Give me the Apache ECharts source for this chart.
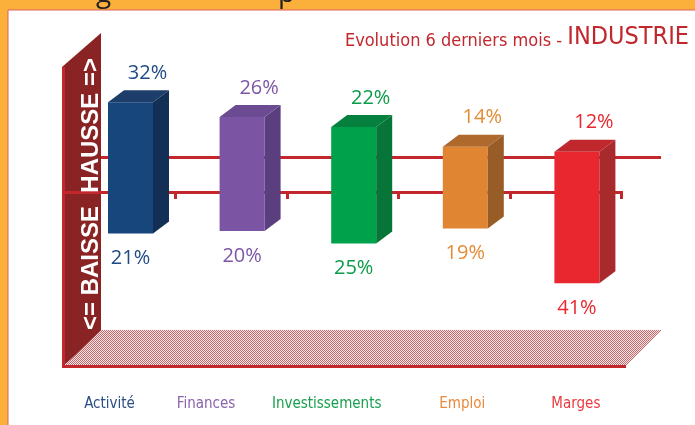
<!DOCTYPE html>
<html>
<head>
<meta charset="utf-8">
<script src="https://cdn.jsdelivr.net/npm/echarts@6/dist/echarts.min.js"></script>
<style>
    html, body { margin: 0; padding: 0; background: #fbb03b; }
    #main { width: 695px; height: 425px; }
</style>
</head>
<body>
<div id="main"></div>
<script>
// valeurs
const categories = ['Activité', 'Finances', 'Investissements', 'Emploi', 'Marges'];
const hausse = [32, 26, 22, 14, 12];
const baisse = [21, 20, 25, 19, 41];

const labelColors = ['#2a4f85', '#8a63ad', '#18a04f', '#e88a3c', '#ea3a40'];
const labelShift = [21, 36, 27, 3, 1];
const faces = [
    {front: '#17467c', side: '#142f55', top: '#1d3d6b', text: '#1f4a85'},
    {front: '#7b55a3', side: '#5b3e7e', top: '#6b4b92', text: '#7d57a6'},
    {front: '#00a14b', side: '#087538', top: '#06803f', text: '#0b9b4a'},
    {front: '#e08633', side: '#985d27', top: '#b0692c', text: '#e38b35'},
    {front: '#e8282e', side: '#a82a2d', top: '#c0282e', text: '#e8282e'}
];

const RED = '#c1272d';
const NARROW = "'Liberation Sans Narrow', 'DejaVu Sans Condensed', sans-serif";

function makeHatch() {
    let c = document.createElement('canvas');
    c.width = 2; c.height = 2;
    let ctx = c.getContext('2d');
    ctx.fillStyle = '#f4e6e6';
    ctx.fillRect(0, 0, 2, 2);
    ctx.fillStyle = '#c46a6c';
    ctx.fillRect(0, 0, 1, 1);
    ctx.fillRect(1, 1, 1, 1);
    return {image: c, repeat: 'repeat'};
}

function renderBar(params, api) {
    const i = api.value(0);
    const top = api.coord([i, api.value(1)]);
    const bot = api.coord([i, api.value(2)]);
    const w = 45, dx = 16, dy = 12;
    const x0 = top[0] - w / 2, x1 = x0 + w;
    const f = faces[i];
    return {
        type: 'group',
        children: [
            {type: 'rect', shape: {x: x0, y: top[1], width: w, height: bot[1] - top[1]},
                style: {fill: f.front}},
            {type: 'polygon', shape: {points: [[x1, top[1]], [x1 + dx, top[1] - dy], [x1 + dx, bot[1] - dy], [x1, bot[1]]]},
                style: {fill: f.side}},
            {type: 'polygon', shape: {points: [[x0, top[1]], [x0 + dx, top[1] - dy], [x1 + dx, top[1] - dy], [x1, top[1]]]},
                style: {fill: f.top}},
            {type: 'text', x: top[0] + 17, y: top[1] - 29,
                style: {text: api.value(1) + '%', fill: f.text, font: "20px 'Open Sans', sans-serif", align: 'center', verticalAlign: 'middle'}},
            {type: 'text', x: top[0], y: bot[1] + 25,
                style: {text: (-api.value(2)) + '%', fill: f.text, font: "20px 'Open Sans', sans-serif", align: 'center', verticalAlign: 'middle'}}
        ]
    };
}

let rich = {};
categories.forEach((c, i) => {
    rich['c' + i] = {color: labelColors[i], fontSize: 15, fontFamily: NARROW, padding: [0, labelShift[i] * 2, 0, 0]};
});

let chartDom = document.getElementById('main');
let myChart = echarts.init(chartDom);
let option = {
    backgroundColor: '#fbb03b',
    animation: false,
    grid: {left: 74.7, right: 62.3, top: 82.3, bottom: 119.5},
    xAxis: {
        type: 'category',
        data: categories,
        axisLine: {show: false},
        axisTick: {show: false},
        axisLabel: {
            interval: 0,
            margin: 91,
            formatter: (v, idx) => '{c' + idx + '|' + v + '}',
            rich: rich
        }
    },
    yAxis: {
        type: 'value',
        min: -50,
        max: 40,
        show: false
    },
    graphic: [
        {type: 'rect', shape: {x: 8, y: 10, width: 700, height: 430}, style: {fill: '#ffffff', stroke: '#e0605a', lineWidth: 1}},
        {type: 'text', x: 96, y: 8, style: {text: 'g', font: "28px 'Open Sans', sans-serif", fill: '#222', verticalAlign: 'bottom'}},
        {type: 'text', x: 278, y: 8, style: {text: 'p', font: "28px 'Open Sans', sans-serif", fill: '#222', verticalAlign: 'bottom'}},
        {type: 'text', x: 689, y: 50, style: {
            text: '{a|Evolution 6 derniers mois - }{b|INDUSTRIE}', align: 'right', verticalAlign: 'bottom',
            rich: {
                a: {fontSize: 18, fontFamily: NARROW, fill: RED, verticalAlign: 'bottom', lineHeight: 22},
                b: {fontSize: 25, fontFamily: NARROW, fill: RED, verticalAlign: 'bottom', lineHeight: 28}
            }
        }},
        // panneau vertical
        {type: 'polygon', shape: {points: [[62, 67], [101, 33], [101, 333], [62, 367]]}, style: {fill: '#8a2323'}},
        {type: 'rect', shape: {x: 62, y: 67, width: 3, height: 300}, style: {fill: RED}},
        // sol
        {type: 'polygon', shape: {points: [[101, 330], [662, 330], [626, 366], [64, 366]]}, style: {fill: makeHatch()}},
        {type: 'rect', shape: {x: 62, y: 365, width: 564, height: 3}, style: {fill: RED}},
        // lignes
        {type: 'rect', shape: {x: 101, y: 156, width: 560, height: 3}, style: {fill: RED}},
        {type: 'rect', shape: {x: 62, y: 191, width: 561, height: 3}, style: {fill: RED}},
        {type: 'rect', shape: {x: 174, y: 191, width: 3, height: 8}, style: {fill: RED}},
        {type: 'rect', shape: {x: 286, y: 191, width: 3, height: 8}, style: {fill: RED}},
        {type: 'rect', shape: {x: 397, y: 191, width: 3, height: 8}, style: {fill: RED}},
        {type: 'rect', shape: {x: 509, y: 191, width: 3, height: 8}, style: {fill: RED}},
        {type: 'rect', shape: {x: 620, y: 191, width: 3, height: 8}, style: {fill: RED}},
        {type: 'text', x: 91, y: 194, rotation: Math.PI / 2, style: {
            text: '<= BAISSE  HAUSSE =>', font: "bold 24px 'Liberation Sans', Arial, sans-serif",
            fill: '#ffffff', align: 'center', verticalAlign: 'middle'
        }}
    ],
    series: [{
        type: 'custom',
        renderItem: renderBar,
        encode: {x: 0, y: [1, 2]},
        data: categories.map((c, i) => [i, hausse[i], -baisse[i]])
    }]
};
option && myChart.setOption(option);
</script>
</body>
</html>
